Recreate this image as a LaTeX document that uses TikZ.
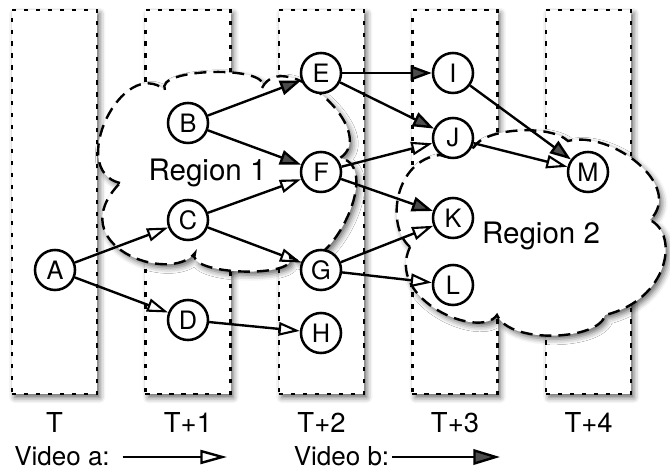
\documentclass[tikz,border=0pt]{standalone}
\usepackage{fontspec}
\setmainfont{TeX Gyre Heros}
\usetikzlibrary{arrows.meta,shadows.blur}

\begin{document}
\begin{tikzpicture}[x=0.025cm, y=-0.025cm]
	\tikzset{
		softshadow/.style={blur shadow={shadow xshift=2pt, shadow yshift=-2.5pt,
				shadow blur radius=4pt, shadow opacity=60}},
		slot/.style={draw, fill=white, line width=2pt, dash pattern=on 3pt off 5.5pt,
			minimum width=2.125cm, minimum height=9.6cm, inner sep=0pt, softshadow},
		region/.style={draw, fill=white, line width=1.7pt, dash pattern=on 8.5pt off 5pt, softshadow},
		frame/.style={circle, draw, fill=white, line width=1.8pt, minimum size=1cm,
			inner sep=0pt, font=\fontsize{18}{20}\selectfont},
		vida/.style={-{Triangle[open, length=15pt, width=9.5pt, line width=1.5pt]}, line width=1.7pt},
		vidb/.style={-{Triangle[length=15pt, width=10.5pt]}, line width=1.7pt},
	}
	\useasboundingbox (0,0) rectangle (670,471);
	
	% time slots
	\foreach \i/\lab in {0/T, 1/T+1, 2/T+2, 3/T+3, 4/T+4} {
		\node[slot] (slot\i) at ({54.5+133.5*\i}, 202) {};
		\node[font=\fontsize{19.5}{22}\selectfont] (lab\i) at ({54.5+133.5*\i}, 423) {\lab};
	}
	
	% region 1
	\draw[region] (120,183) .. controls (66.6,170.2) and (122.4,54.8) .. (165,90)
		.. controls (153.4,67.5) and (273.6,65.1) .. (262,88)
		.. controls (283.8,44.9) and (380.6,131.7) .. (340,158)
		.. controls (386,166.2) and (324,287.8) .. (290,256)
		.. controls (301.4,279.1) and (183.6,275.3) .. (195,253)
		.. controls (170,285) and (60,245) .. (120,183) -- cycle;
	% region 2
	\draw[region] (410,247) .. controls (385,225) and (395,160) .. (440,155)
		.. controls (452,160) and (465,155) .. (474,147)
		.. controls (485,128) and (550,124) .. (568,141)
		.. controls (610,130) and (685,185) .. (650,220)
		.. controls (680,235) and (668,300) .. (605,315)
		.. controls (600,340) and (510,345) .. (497,315)
		.. controls (480,340) and (385,300) .. (410,247) -- cycle;
	\node[anchor=base, font=\fontsize{21}{24}\selectfont] (reg1) at (207.5,181) {Region 1};
	\node[anchor=base, font=\fontsize{21}{24}\selectfont] (reg2) at (541,244) {Region 2};
	
	% frames
	\node[frame] (A) at (55,270) {A};
	\node[frame] (B) at (188,123) {B};
	\node[frame] (C) at (188,220) {C};
	\node[frame] (D) at (188,320) {D};
	\node[frame] (E) at (321,73) {E};
	\node[frame] (F) at (321,172) {F};
	\node[frame] (G) at (321,270) {G};
	\node[frame] (H) at (321,333) {H};
	\node[frame] (I) at (453,73) {I};
	\node[frame] (J) at (453,138) {J};
	\node[frame] (K) at (453,218) {K};
	\node[frame] (L) at (453,285) {L};
	\node[frame] (M) at (588,172) {M};
	
	% links of video a and video b
	\foreach \s/\t in {A/C, A/D, C/F, C/G, D/H, F/J, G/K, G/L, J/M}
		\draw[vida] (\s) -- (\t);
	\foreach \s/\t in {B/E, B/F, E/I, E/J, F/K, I/M}
		\draw[vidb] (\s) -- (\t);
	
	% legend
	\node[anchor=base, inner sep=0pt, font=\fontsize{18.5}{20}\selectfont] (keya) at (62,465) {Video a:};
	\node[anchor=base, inner sep=0pt, font=\fontsize{18.5}{20}\selectfont] (keyb) at (341.5,465) {Video b:};
	\coordinate (keyaend) at (227,457);
	\coordinate (keybend) at (500,457);
	\draw[vida, -{Triangle[open, length=19pt, width=10pt, line width=1.7pt]}]
		([xshift=9pt]keya.east |- keyaend) -- (keyaend);
	\draw[vidb, -{Triangle[length=19pt, width=11pt]}]
		([xshift=2pt]keyb.east |- keybend) -- (keybend);
\end{tikzpicture}
\end{document}
